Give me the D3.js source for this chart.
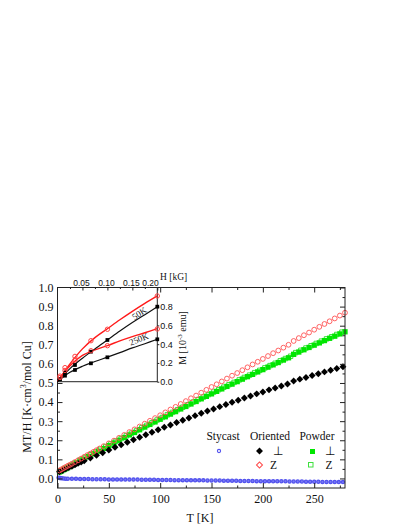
<!DOCTYPE html>
<html><head><meta charset="utf-8">
<script src="https://cdn.jsdelivr.net/npm/d3@7"></script>
<style>body{margin:0;background:#fff} svg{display:block}</style>
</head><body>
<svg id="c" width="409" height="529"></svg>
<script>
// ---------------- main panel data ----------------
const xTicks = [0, 50, 100, 150, 200, 250];
const yTicks = [0.0, 0.1, 0.2, 0.3, 0.4, 0.5, 0.6, 0.7, 0.8, 0.9, 1.0];

const stycastT = [1,2,3,4,6,8,10,14,18,22,26,30,34,38,42,46,50,54,58,62,66,70,74,78,82,86,90,94,98,102,106,110,114,118,122,126,130,134,138,142,146,150,154,158,162,166,170,174,178,182,186,190,194,198,202,206,210,214,218,222,226,230,234,238,242,246,250,254,258,262,266,270,274,278];
const stycastV = [0.004,0.003,0.002,0.001,0.000,-0.001,-0.001,-0.002,-0.002,-0.003,-0.003,-0.003,-0.004,-0.004,-0.004,-0.004,-0.005,-0.005,-0.005,-0.005,-0.006,-0.006,-0.006,-0.006,-0.007,-0.007,-0.007,-0.007,-0.008,-0.008,-0.008,-0.008,-0.009,-0.009,-0.009,-0.009,-0.010,-0.010,-0.010,-0.010,-0.011,-0.011,-0.011,-0.011,-0.012,-0.012,-0.012,-0.012,-0.013,-0.013,-0.013,-0.013,-0.014,-0.014,-0.014,-0.014,-0.015,-0.015,-0.015,-0.015,-0.016,-0.016,-0.016,-0.016,-0.017,-0.017,-0.017,-0.017,-0.018,-0.018,-0.018,-0.018,-0.019,-0.019];

const orientPerpT = [2,5,8,11,14,17,20,23,26,32,38,44,50,56,62,68,74,80,86,92,98,104,110,116,122,128,134,140,146,152,158,164,170,176,182,188,194,200,206,212,218,224,230,236,242,248,254,260,266,272,278];
const orientPerpV = [0.035,0.042,0.050,0.057,0.064,0.071,0.079,0.086,0.093,0.107,0.121,0.135,0.149,0.163,0.176,0.190,0.203,0.216,0.229,0.242,0.255,0.268,0.280,0.293,0.305,0.317,0.329,0.341,0.353,0.364,0.376,0.387,0.399,0.410,0.421,0.432,0.443,0.453,0.464,0.474,0.484,0.495,0.510,0.520,0.529,0.539,0.548,0.558,0.567,0.576,0.585];

const orientZT = [2,4,6,8,10,12,14,17,20,23,26,29,32,35,38,41,45,50,55,60,65,70,75,80,85,90,95,100,105,110,115,120,125,130,135,140,145,150,155,160,165,170,175,180,185,190,195,200,205,210,215,220,225,230,235,240,245,250,255,260,265,270,275,280];
const orientZV = [0.042,0.048,0.054,0.060,0.066,0.071,0.077,0.086,0.095,0.104,0.113,0.122,0.130,0.139,0.148,0.157,0.169,0.184,0.198,0.213,0.228,0.243,0.257,0.272,0.287,0.302,0.316,0.331,0.346,0.361,0.375,0.390,0.405,0.420,0.434,0.449,0.464,0.479,0.493,0.508,0.523,0.538,0.552,0.567,0.582,0.597,0.611,0.626,0.641,0.656,0.670,0.685,0.700,0.720,0.735,0.750,0.764,0.779,0.794,0.809,0.823,0.838,0.853,0.868];

const powderPerpT = [2,4,6,8,10,13,16,19,22,25,30,35,40,45,50,55,60,65,70,75,80,85,90,95,100,105,110,115,120,125,130,135,140,145,150,155,160,165,170,175,180,185,190,195,200,205,210,215,220,225,230,235,240,245,250,255,260,265,270,275,280];
const powderPerpV = [0.034,0.040,0.046,0.051,0.057,0.066,0.075,0.083,0.092,0.101,0.115,0.129,0.143,0.157,0.172,0.186,0.200,0.214,0.228,0.241,0.255,0.269,0.283,0.296,0.310,0.323,0.337,0.350,0.364,0.377,0.390,0.403,0.417,0.430,0.443,0.456,0.469,0.482,0.494,0.507,0.520,0.533,0.545,0.558,0.570,0.583,0.595,0.607,0.620,0.632,0.650,0.662,0.674,0.686,0.698,0.710,0.722,0.734,0.745,0.757,0.768];

const powderZT = [3,7,12,17,22,27,32,37,42,47,52,57,62,67,72,77,82,87,92,97,102,107,112,117,122,127,132,137,142,147,152,157,162,167,172,177,182,187,192,197,202,207,212,217,222,227,232,237,242,247,252,257,262,267,272,277];
const powderZV = [0.041,0.052,0.067,0.081,0.096,0.110,0.124,0.139,0.153,0.167,0.181,0.195,0.209,0.223,0.237,0.251,0.265,0.278,0.292,0.306,0.319,0.333,0.346,0.360,0.373,0.386,0.400,0.413,0.426,0.439,0.452,0.465,0.478,0.491,0.503,0.516,0.529,0.541,0.554,0.566,0.579,0.591,0.603,0.616,0.628,0.640,0.659,0.671,0.683,0.695,0.707,0.719,0.731,0.742,0.754,0.766];

// ---------------- inset data ----------------
const insetHTicks = [0.05, 0.10, 0.15, 0.20];
const insetMTicks = [0.0, 0.2, 0.4, 0.6, 0.8];
const insetH = [0.005, 0.015, 0.035, 0.067, 0.1, 0.2];
const m50Z   = [0.060, 0.150, 0.270, 0.437, 0.559, 0.914];
const m50P   = [0.030, 0.096, 0.178, 0.320, 0.445, 0.800];
const m250Z  = [0.045, 0.120, 0.231, 0.330, 0.384, 0.562];
const m250P  = [0.025, 0.064, 0.125, 0.196, 0.260, 0.452];
const fitH     = [0, 0.025, 0.05, 0.075, 0.1, 0.125, 0.15, 0.175, 0.2];
const fit50Z   = [0, 0.190, 0.350, 0.470, 0.565, 0.660, 0.750, 0.835, 0.915];
const fit50P   = [0, 0.140, 0.250, 0.350, 0.445, 0.540, 0.630, 0.715, 0.800];
const fit250Z  = [0, 0.170, 0.280, 0.340, 0.385, 0.435, 0.480, 0.522, 0.565];
const fit250P  = [0, 0.100, 0.165, 0.215, 0.262, 0.310, 0.360, 0.405, 0.452];

// ---------------- drawing ----------------
const SERIF = "'Liberation Serif','Times New Roman',serif";
const SANS = "'Liberation Sans',Arial,sans-serif";
const svg = d3.select("#c");

const x = d3.scaleLinear().domain([0, 280]).range([57.5, 345]);
const y = d3.scaleLinear().domain([-0.05, 1.0]).range([488, 287.5]);

function clean(g, size, font) {
  g.select(".domain").remove();
  g.selectAll("line").attr("stroke", "#222").attr("stroke-width", 1);
  g.selectAll("text").attr("font-family", font || SERIF).attr("font-size", size || 12).attr("fill", "#111");
}

const pts = (T, V) => T.map((t, i) => ({t, v: V[i]}));

const gData = svg.append("g");
gData.selectAll("circle.sty").data(pts(stycastT, stycastV)).join("circle")
  .attr("cx", d => x(d.t)).attr("cy", d => y(d.v)).attr("r", 1.6)
  .attr("fill", "#7c7cf4").attr("stroke", "#5252ee").attr("stroke-width", 1.3);

const sq = d3.symbol(d3.symbolSquare, 28);
gData.selectAll("path.pz").data(pts(powderZT, powderZV)).join("path")
  .attr("d", d3.symbol(d3.symbolSquare, 20)())
  .attr("transform", d => `translate(${x(d.t)},${y(d.v)})`)
  .attr("fill", "none").attr("stroke", "#3ee03e").attr("stroke-width", 1);
gData.selectAll("path.pp").data(pts(powderPerpT, powderPerpV)).join("path")
  .attr("d", sq())
  .attr("transform", d => `translate(${x(d.t)},${y(d.v)})`)
  .attr("fill", "#00e600");
gData.selectAll("path.op").data(pts(orientPerpT, orientPerpV)).join("path")
  .attr("d", d3.symbol(d3.symbolSquare, 24)())
  .attr("transform", d => `translate(${x(d.t)},${y(d.v)}) rotate(45)`)
  .attr("fill", "#000");
gData.selectAll("circle.oz").data(pts(orientZT, orientZV)).join("circle")
  .attr("cx", d => x(d.t)).attr("cy", d => y(d.v)).attr("r", 2.4)
  .attr("fill", "none").attr("stroke", "#ff5050").attr("stroke-width", 0.9);

// frame & axes
svg.append("rect").attr("x", x(0)).attr("y", y(1.0)).attr("width", x(280) - x(0)).attr("height", y(-0.05) - y(1.0))
  .attr("fill", "none").attr("stroke", "#222").attr("stroke-width", 1);

const yMinor = yTicks.slice(0, -1).map(v => v + 0.05);
const xMinor = xTicks.map(v => v + 25);

svg.append("g").attr("transform", `translate(${x(0)},0)`)
  .call(d3.axisLeft(y).tickValues(yTicks).tickSize(-5).tickPadding(4).tickFormat(d3.format(".1f"))).call(g => clean(g, 12));
svg.append("g").attr("transform", `translate(${x(0)},0)`)
  .call(d3.axisLeft(y).tickValues(yMinor).tickSize(-2.5).tickFormat("")).call(g => clean(g));
svg.append("g").attr("transform", `translate(${x(280)},0)`)
  .call(d3.axisRight(y).tickValues(yTicks).tickSize(-5).tickFormat("")).call(g => clean(g));
svg.append("g").attr("transform", `translate(${x(280)},0)`)
  .call(d3.axisRight(y).tickValues(yMinor).tickSize(-2.5).tickFormat("")).call(g => clean(g));
svg.append("g").attr("transform", `translate(0,${y(-0.05)})`)
  .call(d3.axisBottom(x).tickValues(xTicks).tickSize(-5).tickPadding(6)).call(g => clean(g, 12));
svg.append("g").attr("transform", `translate(0,${y(-0.05)})`)
  .call(d3.axisBottom(x).tickValues(xMinor).tickSize(-2.5).tickFormat("")).call(g => clean(g));
svg.append("g").attr("transform", `translate(0,${y(1.0)})`)
  .call(d3.axisTop(x).tickValues(xTicks).tickSize(-5).tickFormat("")).call(g => clean(g));
svg.append("g").attr("transform", `translate(0,${y(1.0)})`)
  .call(d3.axisTop(x).tickValues(xMinor).tickSize(-2.5).tickFormat("")).call(g => clean(g));

// axis titles
svg.append("text").attr("x", 200).attr("y", 522).attr("text-anchor", "middle")
  .attr("font-family", SERIF).attr("font-size", 12).attr("fill", "#111").text("T [K]");
const yl = svg.append("text").attr("transform", "translate(31,397) rotate(-90)").attr("text-anchor", "middle")
  .attr("font-family", SERIF).attr("font-size", 12).attr("fill", "#111");
yl.append("tspan").text("MT/H [K·cm");
yl.append("tspan").attr("dy", -5).attr("font-size", 8).text("3");
yl.append("tspan").attr("dy", 5).text("/mol Cu]");

// legend
const leg = svg.append("g").attr("font-family", SERIF).attr("font-size", 11.5).attr("fill", "#111");
[["Stycast", 223], ["Oriented", 270], ["Powder", 317]].forEach(([t, cx]) =>
  leg.append("text").attr("x", cx).attr("y", 439.5).attr("text-anchor", "middle").text(t));
leg.append("circle").attr("cx", 219).attr("cy", 451).attr("r", 1.6).attr("fill", "none").attr("stroke", "#5252ee").attr("stroke-width", 1.1);
leg.append("path").attr("d", d3.symbol(d3.symbolSquare, 24)()).attr("transform", "translate(259.5,451) rotate(45)").attr("fill", "#000");
leg.append("path").attr("d", d3.symbol(d3.symbolSquare, 18)()).attr("transform", "translate(259.5,465) rotate(45)").attr("fill", "none").attr("stroke", "#ff4a4a").attr("stroke-width", 1);
leg.append("rect").attr("x", 310).attr("y", 448.5).attr("width", 5).attr("height", 5).attr("fill", "#00e600").attr("shape-rendering", "crispEdges");
leg.append("rect").attr("x", 308.5).attr("y", 462.5).attr("width", 4.5).attr("height", 4.5).attr("fill", "none").attr("stroke", "#3ee03e").attr("stroke-width", 1);
[["\u22A5", 277.5, 451], ["Z", 273.5, 465], ["\u22A5", 330, 451], ["Z", 329, 465]].forEach(([t, cx, cy]) =>
  leg.append("text").attr("x", cx).attr("y", cy + 4).attr("text-anchor", "middle").text(t));

// ---------------- inset ----------------
const ix = d3.scaleLinear().domain([0, 0.2]).range([57.5, 157.3]);
const iy = d3.scaleLinear().domain([0, 1.0]).range([381.7, 287.9]);

svg.append("rect").attr("x", ix(0)).attr("y", y(1.0)).attr("width", ix(0.2) - ix(0)).attr("height", iy(0) - y(1.0))
  .attr("fill", "#fff").attr("stroke", "#222").attr("stroke-width", 1);

const topAx = svg.append("g").attr("transform", `translate(0,${y(1.0)})`)
  .call(d3.axisTop(ix).tickValues(insetHTicks).tickSize(-3).tickPadding(2).tickFormat(d3.format(".2f")))
  .call(g => clean(g, 8.5, SANS));
topAx.selectAll("text").attr("dx", -1.5);
topAx.selectAll("text").filter(d => d === 0.2).attr("text-anchor", "end").attr("dx", 1);
svg.append("g").attr("transform", `translate(0,${y(1.0)})`)
  .call(d3.axisTop(ix).tickValues([0.025, 0.075, 0.125, 0.175]).tickSize(-1.5).tickFormat("")).call(g => clean(g));
svg.append("g").attr("transform", `translate(${ix(0.2)},0)`)
  .call(d3.axisRight(iy).tickValues(insetMTicks).tickSize(2).tickPadding(1).tickFormat(d3.format(".1f")))
  .call(g => clean(g, 9, SANS));

svg.append("text").attr("x", 160).attr("y", 280).attr("font-family", SERIF).attr("font-size", 9.5).attr("fill", "#111").text("H [kG]");
const ml = svg.append("text").attr("transform", "translate(186,338) rotate(-90)").attr("text-anchor", "middle")
  .attr("font-family", SERIF).attr("font-size", 10).attr("fill", "#111");
ml.append("tspan").text("M [10");
ml.append("tspan").attr("dy", -4).attr("font-size", 7).text("-3");
ml.append("tspan").attr("dy", 4).text(" emu]");

const line = d3.line().x(d => ix(d[0])).y(d => iy(d[1])).curve(d3.curveCatmullRom);
const fits = [[fit50Z, "#ff1a1a", 1.4], [fit250Z, "#ff1a1a", 1.4], [fit50P, "#111", 1.2], [fit250P, "#111", 1.2]];
fits.forEach(([f, c, w]) => svg.append("path").attr("d", line(fitH.map((h, i) => [h, f[i]])))
  .attr("fill", "none").attr("stroke", c).attr("stroke-width", w));

[m50P, m250P].forEach(arr => svg.append("g").selectAll("path").data(insetH.map((h, i) => [h, arr[i]])).join("path")
  .attr("d", d3.symbol(d3.symbolSquare, 14)())
  .attr("transform", d => `translate(${ix(d[0])},${iy(d[1])})`).attr("fill", "#000"));
[m50Z, m250Z].forEach(arr => svg.append("g").selectAll("circle").data(insetH.map((h, i) => [h, arr[i]])).join("circle")
  .attr("cx", d => ix(d[0])).attr("cy", d => iy(d[1])).attr("r", 2.2)
  .attr("fill", "none").attr("stroke", "#ff4040").attr("stroke-width", 1));

svg.append("text").attr("transform", "translate(141,316) rotate(-33)").attr("text-anchor", "middle")
  .attr("font-family", SERIF).attr("font-size", 9).attr("fill", "#111").text("50K");
svg.append("text").attr("transform", "translate(140,342) rotate(-22)").attr("text-anchor", "middle")
  .attr("font-family", SERIF).attr("font-size", 9).attr("fill", "#111").text("250K");
</script>
</body></html>
